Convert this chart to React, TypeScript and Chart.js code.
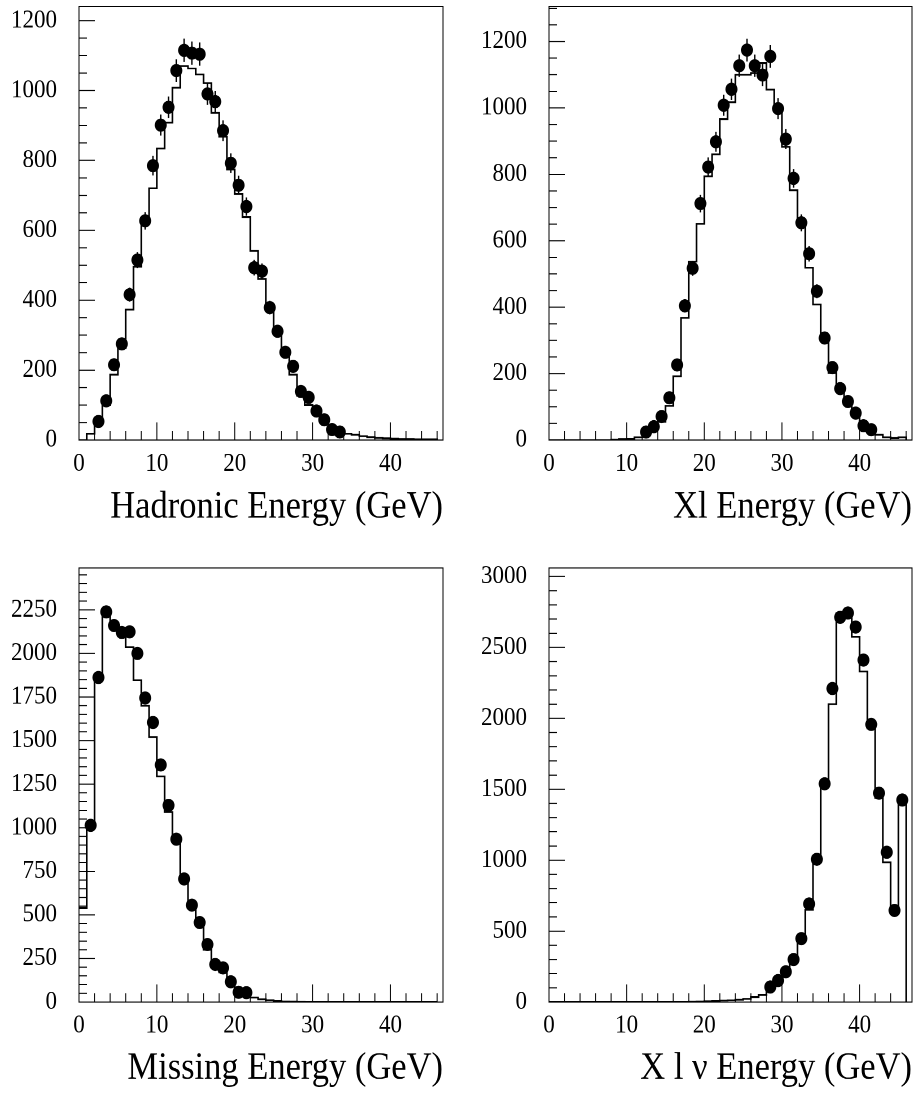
import React, { useEffect, useRef } from 'react';
import { Chart, registerables } from 'chart.js';

Chart.register(...registerables);

// ---- Data --------------------------------------------------------------
// bin edges (GeV), 1 GeV bins
const binEdges = [
  0, 1, 2, 3, 4, 5, 6, 7, 8, 9, 10, 11, 12, 13, 14, 15, 16, 17, 18, 19, 20, 21, 22, 23,
  24, 25, 26, 27, 28, 29, 30, 31, 32, 33, 34, 35, 36, 37, 38, 39, 40, 41, 42, 43, 44, 45, 46,
];

const xTickLabels = [0, 10, 20, 30, 40];

// Hadronic energy: simulation histogram (bins 0..45) and data points (from bin 2)
const hadronicYTicks = [0, 200, 400, 600, 800, 1000, 1200];
const hadronicMC = [
  0, 18, 45, 100, 187, 262, 373, 496, 620, 720, 834, 908, 1008, 1070, 1063, 1046, 1021, 936,
  868, 774, 704, 638, 541, 461, 381, 306, 252, 187, 127, 100, 73, 48, 31, 20, 18, 15, 11, 8,
  6, 5, 4, 3, 3, 2, 2, 2,
];
const hadronicFirstBin = 2;
const hadronicData = [
  53, 112, 215, 275, 416, 515, 627, 785, 901, 952, 1057, 1115, 1107, 1104, 990, 968, 885,
  792, 729, 668, 493, 483, 379, 311, 251, 211, 139, 122, 83, 58, 30, 23,
];

// Xl energy
const xlYTicks = [0, 200, 400, 600, 800, 1000, 1200];
const xlMC = [
  0, 0, 0, 0, 0, 0, 0, 0, 1, 3, 4, 8, 14, 29, 55, 103, 192, 368, 537, 651, 794, 860, 966,
  1017, 1100, 1100, 1105, 1135, 1055, 998, 883, 752, 663, 519, 408, 312, 202, 145, 110, 87,
  50, 24, 16, 8, 6, 8,
];
const xlFirstBin = 12;
const xlData = [
  24, 40, 71, 127, 226, 404, 517, 712, 822, 898, 1008, 1056, 1127, 1174, 1127, 1099, 1155,
  998, 906, 788, 654, 561, 448, 307, 218, 155, 116, 81, 43, 31,
];

// Missing energy
const missingYTicks = [0, 250, 500, 750, 1000, 1250, 1500, 1750, 2000, 2250];
const missingMC = [
  540, 1010, 1860, 2220, 2150, 2100, 2036, 1846, 1700, 1520, 1294, 1090, 940, 710, 550, 456,
  300, 220, 170, 110, 70, 44, 26, 16, 10, 6, 3, 2, 1, 0, 0, 0, 0, 0, 0, 0, 0, 0, 0, 0, 0, 0,
  0, 0, 0, 0,
];
const missingFirstBin = 1;
const missingData = [
  1014, 1862, 2238, 2160, 2120, 2124, 2000, 1744, 1604, 1360, 1128, 934, 706, 556, 456, 330,
  216, 196, 116, 56, 54,
];

// X l nu energy
const xlnuYTicks = [0, 500, 1000, 1500, 2000, 2500, 3000];
const xlnuMC = [
  0, 0, 0, 0, 0, 0, 0, 0, 0, 0, 0, 0, 0, 0, 0, 0, 0, 0, 2, 4, 6, 8, 10, 12, 16, 22, 35, 50,
  90, 140, 200, 290, 430, 650, 995, 1518, 2100, 2740, 2740, 2575, 2330, 1930, 1440, 985, 650,
  1430,
];
const xlnuFirstBin = 28;
const xlnuData = [
  106, 152, 214, 300, 447, 692, 1007, 1539, 2210, 2713, 2743, 2644, 2411, 1957, 1473, 1056,
  646, 1424,
];

// ---- Drawing -----------------------------------------------------------
const SERIF = "'Liberation Serif', 'Times New Roman', serif";
const CANVAS_W = 459;
const CANVAS_H = 500; // logical height
const CSS_H = 550; // displayed height (vertical stretch like the original figure)

type PanelProps = {
  left: number;
  top: number;
  padTop: number;
  padRight: number;
  yAxisWidth: number;
  xAxisHeight: number;
  titlePadBottom: number;
  title: string;
  yMax: number;
  yTicks: number[];
  yMinor: number;
  mc: number[];
  firstBin: number;
  data: number[];
  errors: boolean;
};

function Panel(p: PanelProps) {
  const ref = useRef<HTMLCanvasElement>(null);

  useEffect(() => {
    const canvas = ref.current;
    if (!canvas) return;

    const hist = p.mc.map((v, i) => ({ x: binEdges[i], y: v }));
    hist.push({ x: binEdges[p.mc.length], y: 0 });
    const pts = p.data.map((v, i) => ({
      x: (binEdges[p.firstBin + i] + binEdges[p.firstBin + i + 1]) / 2,
      y: v,
    }));
    const yMajor = p.yTicks[1] - p.yTicks[0];

    const pawPlugin = {
      id: 'pawFrame',
      beforeDatasetsDraw(chart: any) {
        const { ctx, chartArea: a, scales } = chart;
        const xs = scales.x;
        const ys = scales.y;
        ctx.save();
        ctx.strokeStyle = '#000';
        ctx.lineWidth = 1;
        ctx.strokeRect(a.left, a.top, a.right - a.left, a.bottom - a.top);
        ctx.beginPath();
        for (let v = p.yMinor; v <= p.yMax; v += p.yMinor) {
          const y = ys.getPixelForValue(v);
          const len = v % yMajor === 0 ? 16 : 8;
          ctx.moveTo(a.left, y);
          ctx.lineTo(a.left + len, y);
        }
        for (let v = 2; v <= xs.max; v += 2) {
          const x = xs.getPixelForValue(v);
          const len = v % 10 === 0 ? 16 : 8;
          ctx.moveTo(x, a.bottom);
          ctx.lineTo(x, a.bottom - len);
        }
        ctx.stroke();
        ctx.restore();
      },
      afterDatasetsDraw(chart: any) {
        if (!p.errors) return;
        const { ctx, scales } = chart;
        ctx.save();
        ctx.strokeStyle = '#000';
        ctx.lineWidth = 1.4;
        ctx.beginPath();
        pts.forEach((pt) => {
          const e = Math.sqrt(pt.y);
          const x = scales.x.getPixelForValue(pt.x);
          ctx.moveTo(x, scales.y.getPixelForValue(pt.y - e));
          ctx.lineTo(x, scales.y.getPixelForValue(pt.y + e));
        });
        ctx.stroke();
        ctx.restore();
      },
    };

    const chart = new Chart(canvas, {
      type: 'scatter',
      data: {
        datasets: [
          {
            data: hist,
            showLine: true,
            stepped: true,
            borderColor: '#000',
            borderWidth: 1.6,
            pointRadius: 0,
            fill: false,
          } as any,
          {
            data: pts,
            showLine: false,
            pointRadius: 6,
            pointHoverRadius: 6,
            pointBorderWidth: 0,
            pointBackgroundColor: '#000',
            backgroundColor: '#000',
            borderColor: '#000',
          } as any,
        ],
      },
      options: {
        responsive: false,
        animation: false,
        devicePixelRatio: 2,
        events: [],
        layout: { padding: { top: p.padTop, right: p.padRight, left: 0, bottom: 0 } },
        plugins: { legend: { display: false }, tooltip: { enabled: false } },
        scales: {
          x: {
            type: 'linear',
            min: 0,
            max: 46.75,
            grid: { display: false, drawTicks: false },
            border: { display: false },
            afterBuildTicks: (s: any) => {
              s.ticks = xTickLabels.map((v) => ({ value: v }));
            },
            ticks: {
              autoSkip: false,
              maxRotation: 0,
              padding: 8,
              color: '#000',
              font: { family: SERIF, size: 23, lineHeight: 1.2 },
              callback: (v: any) => String(v),
            },
            title: {
              display: true,
              text: p.title,
              align: 'end',
              color: '#000',
              font: { family: SERIF, size: 34.5, lineHeight: 1 },
              padding: { top: 0, bottom: p.titlePadBottom },
            },
            afterFit: (s: any) => {
              s.height = p.xAxisHeight;
              s.paddingLeft = 0;
              s.paddingRight = 0;
            },
          },
          y: {
            type: 'linear',
            min: 0,
            max: p.yMax,
            grid: { display: false, drawTicks: false },
            border: { display: false },
            afterBuildTicks: (s: any) => {
              s.ticks = p.yTicks.map((v) => ({ value: v }));
            },
            ticks: {
              autoSkip: false,
              padding: 22,
              color: '#000',
              font: { family: SERIF, size: 23, lineHeight: 1.2 },
              callback: (v: any) => String(v),
            },
            afterFit: (s: any) => {
              s.width = p.yAxisWidth;
              s.paddingTop = 0;
              s.paddingBottom = 0;
            },
          },
        },
      } as any,
      plugins: [pawPlugin],
    });

    return () => chart.destroy();
  }, []);

  return (
    <canvas
      ref={ref}
      width={CANVAS_W}
      height={CANVAS_H}
      style={{
        position: 'absolute',
        left: p.left + 'px',
        top: p.top + 'px',
        width: CANVAS_W + 'px',
        height: CSS_H + 'px',
      }}
    />
  );
}

export default function App() {
  const topRow = { top: 0, padTop: 4.5, xAxisHeight: 100, titlePadBottom: 21.5 };
  const bottomRow = { top: 543, padTop: 22.7, xAxisHeight: 82.7, titlePadBottom: 5 };
  const leftCol = { left: 0, yAxisWidth: 79, padRight: 16 };
  const rightCol = { left: 459, yAxisWidth: 90, padRight: 6 };
  return (
    <div
      style={{
        position: 'absolute',
        left: 0,
        top: 0,
        width: '918px',
        height: '1093px',
        background: '#fff',
        overflow: 'hidden',
      }}
    >
      <Panel
        {...topRow}
        {...leftCol}
        title="Hadronic Energy (GeV)"
        yMax={1240}
        yTicks={hadronicYTicks}
        yMinor={50}
        mc={hadronicMC}
        firstBin={hadronicFirstBin}
        data={hadronicData}
        errors={true}
      />
      <Panel
        {...topRow}
        {...rightCol}
        title="Xl Energy (GeV)"
        yMax={1305}
        yTicks={xlYTicks}
        yMinor={50}
        mc={xlMC}
        firstBin={xlFirstBin}
        data={xlData}
        errors={true}
      />
      <Panel
        {...bottomRow}
        {...leftCol}
        title="Missing Energy (GeV)"
        yMax={2490}
        yTicks={missingYTicks}
        yMinor={50}
        mc={missingMC}
        firstBin={missingFirstBin}
        data={missingData}
        errors={false}
      />
      <Panel
        {...bottomRow}
        {...rightCol}
        title="X l ν Energy (GeV)"
        yMax={3060}
        yTicks={xlnuYTicks}
        yMinor={100}
        mc={xlnuMC}
        firstBin={xlnuFirstBin}
        data={xlnuData}
        errors={false}
      />
    </div>
  );
}
